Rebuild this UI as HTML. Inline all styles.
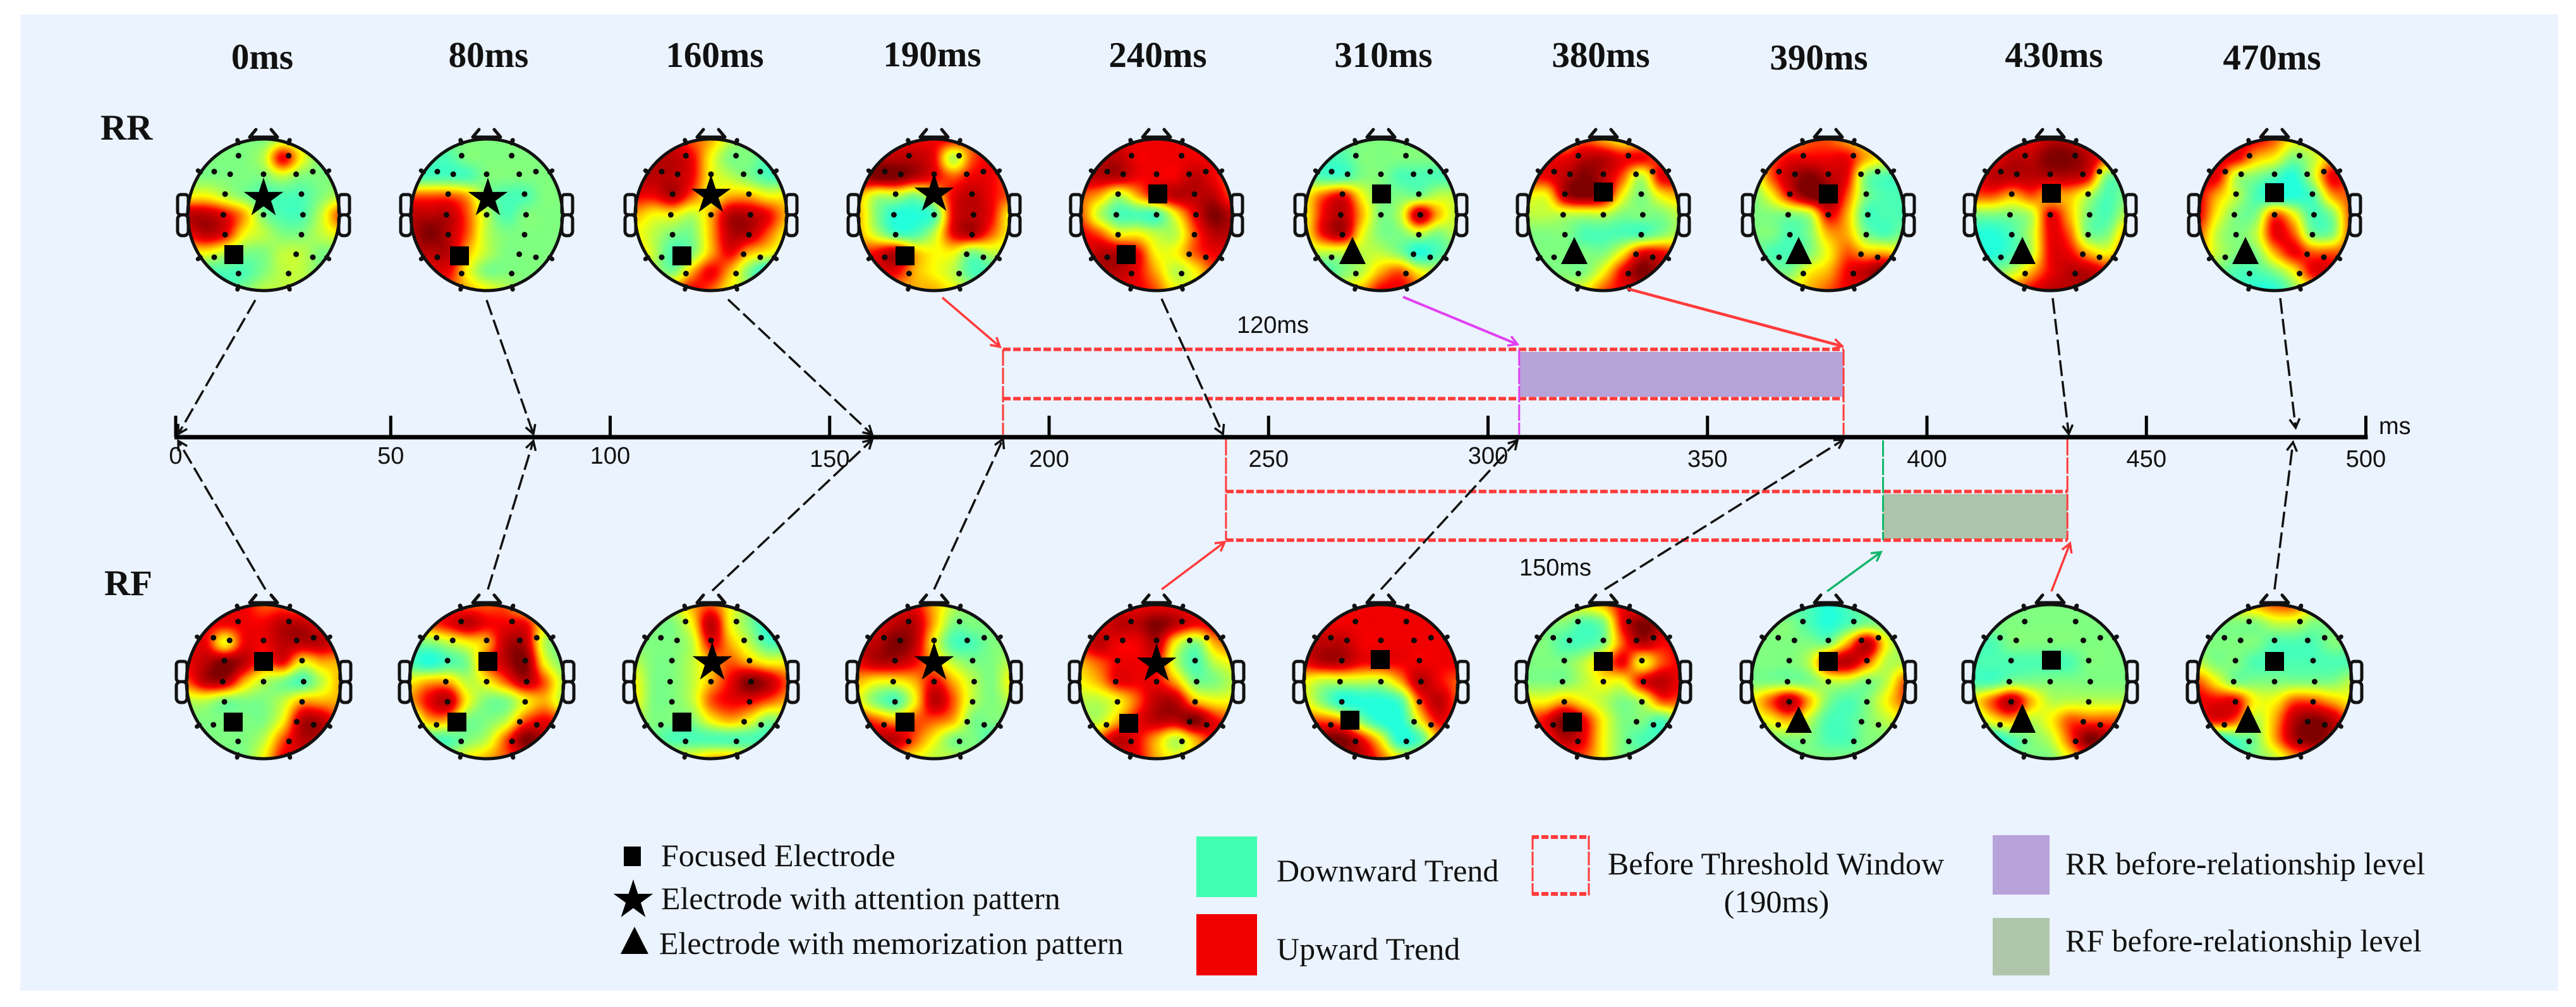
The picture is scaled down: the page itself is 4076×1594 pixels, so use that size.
<!DOCTYPE html>
<html lang="en">
<head>
<meta charset="utf-8">
<title>EEG topographic maps along a time axis</title>
<style>
html,body{margin:0;padding:0;background:#fff;}
#figure{position:relative;width:4076px;height:1594px;background:#fff;overflow:hidden;}
#panel{position:absolute;left:32px;top:23px;width:4016px;height:1545px;background:#EBF3FE;}
#overlay{position:absolute;left:0;top:0;}
canvas{position:absolute;filter:blur(0.8px);}
.title{font:bold 57px "Liberation Serif",serif;fill:#111;text-anchor:middle;}
.rowlabel{font:bold 57px "Liberation Serif",serif;fill:#111;}
.tick{font:38px "Liberation Sans",sans-serif;fill:#111;text-anchor:middle;}
.note{font:38px "Liberation Sans",sans-serif;fill:#111;}
.legend{font:50px "Liberation Serif",serif;fill:#111;}
</style>
</head>
<body>
<div id="figure">
<div id="panel"></div>
<svg id="overlay" width="4076" height="1594" viewBox="0 0 4076 1594" xmlns="http://www.w3.org/2000/svg">
<defs>
<marker id="ah-black" markerUnits="userSpaceOnUse" markerWidth="30" markerHeight="30" refX="24" refY="15" orient="auto"><path d="M10,7 L24,15 L10,23" fill="none" stroke="#111" stroke-width="3.5"/></marker>
<marker id="ah-red" markerUnits="userSpaceOnUse" markerWidth="30" markerHeight="30" refX="24" refY="15" orient="auto"><path d="M10,7 L24,15 L10,23" fill="none" stroke="#FF3B3B" stroke-width="3.5"/></marker>
<marker id="ah-magenta" markerUnits="userSpaceOnUse" markerWidth="30" markerHeight="30" refX="24" refY="15" orient="auto"><path d="M10,7 L24,15 L10,23" fill="none" stroke="#E040F0" stroke-width="3.5"/></marker>
<marker id="ah-green" markerUnits="userSpaceOnUse" markerWidth="30" markerHeight="30" refX="24" refY="15" orient="auto"><path d="M10,7 L24,15 L10,23" fill="none" stroke="#12B76A" stroke-width="3.5"/></marker>
</defs>
<g id="heads-layer"></g>
<g id="windows-layer"></g>
<g id="axis-layer"></g>
<g id="arrows-layer"></g>

<text class="title" x="415" y="109">0ms</text>
<text class="title" x="773" y="106">80ms</text>
<text class="title" x="1131" y="106">160ms</text>
<text class="title" x="1475" y="105">190ms</text>
<text class="title" x="1832" y="106">240ms</text>
<text class="title" x="2189" y="106">310ms</text>
<text class="title" x="2533" y="106">380ms</text>
<text class="title" x="2878" y="110">390ms</text>
<text class="title" x="3250" y="106">430ms</text>
<text class="title" x="3595" y="110">470ms</text>

<text class="rowlabel" x="159" y="221">RR</text>
<text class="rowlabel" x="165" y="942">RF</text>

<text class="note" x="1957" y="527">120ms</text>
<text class="note" x="2404" y="911">150ms</text>
<text class="note" x="3764" y="687">ms</text>

<g id="legend">
<rect x="987" y="1340" width="27" height="31" fill="#000"/>
<text class="legend" x="1046" y="1371">Focused Electrode</text>
<text class="legend" x="1046" y="1439">Electrode with attention pattern</text>
<polygon points="1004,1467 1026,1510 982,1510" fill="#000"/>
<text class="legend" x="1043" y="1510">Electrode with memorization pattern</text>
<rect x="1893" y="1324" width="96" height="96" fill="#40FFB0"/>
<text class="legend" x="2020" y="1395">Downward Trend</text>
<rect x="1893" y="1447" width="96" height="97" fill="#F00000"/>
<text class="legend" x="2020" y="1519">Upward Trend</text>
<g>
<line x1="2424" y1="1325" x2="2515" y2="1325" stroke="#FF3B3B" stroke-width="6" stroke-dasharray="11 4"/>
<line x1="2424" y1="1415" x2="2515" y2="1415" stroke="#FF3B3B" stroke-width="6" stroke-dasharray="11 4"/>
<line x1="2425" y1="1323" x2="2425" y2="1417" stroke="#FF3B3B" stroke-width="3" stroke-dasharray="22 3"/>
<line x1="2514" y1="1323" x2="2514" y2="1417" stroke="#FF3B3B" stroke-width="3" stroke-dasharray="22 3"/>
</g>
<text class="legend" x="2810" y="1384" text-anchor="middle">Before Threshold Window</text>
<text class="legend" x="2811" y="1444" text-anchor="middle">(190ms)</text>
<rect x="3153" y="1322" width="90" height="94" fill="#B8A2DA"/>
<text class="legend" x="3268" y="1384">RR before-relationship level</text>
<rect x="3153" y="1453" width="90" height="91" fill="#B0C6AC"/>
<text class="legend" x="3268" y="1506">RF before-relationship level</text>
</g>
<g id="markers-layer"></g>
</svg>
</div>

<script>
// ---- data: time axis ----
const tickValues = [0, 50, 100, 150, 200, 250, 300, 350, 400, 450, 500];
const tickLabels = ["0", "50", "100", "150", "200", "250", "300", "350", "400", "450", "500"];
const labelBaselines = [734, 734, 734, 739, 739, 739, 734, 739, 739, 739, 739];
const timePoints = ["0ms", "80ms", "160ms", "190ms", "240ms", "310ms", "380ms", "390ms", "430ms", "470ms"];

// ---- data: window boundaries (ms) ----
const rrWindowMs = [189.5, 381];
const rrLevelMs = [307.1, 381];
const rfWindowMs = [240.3, 432];
const rfLevelMs = [390, 432];

// ---- data: arrow targets on the axis (ms) ----
const rrArrowTargetsMs = [1.6, 82.5, 159.7, 188.8, 239.6, 306.7, 380.7, 432.3, 484];
const rfArrowTargetsMs = [1.6, 82.5, 159.7, 189.5, 240, 306.7, 381, 389.5, 432.6, 483.4];

// ---- data: scalp activity levels (0 = cyan ... 2 = green ... 4 = yellow ... 7 = red ... 9 = dark red)
// each head is a 9x9 grid, front of head first
const rrValues = [
[[2,2,2,2,2,3,3,3,3],[2,2,2,2,3,7,4,2,2],[2,2,2,2,2,3,2,2,2],[4,4,3,2,1,1,1,2,3],[8,8,7,5,2,1,1,3,6],[7,8,7,4,3,2,2,3,4],[4,4,3,2,2,3,3,2,2],[1,1,1,1,2,3,3,2,2],[1,1,1,2,3,3,3,2,2]],
[[2,2,2,2,2,2,2,2,2],[1,1,1,2,2,2,2,2,2],[1,1,1,1,2,2,2,2,2],[6,6,6,5,2,1,1,2,2],[8,8,8,6,3,1,2,2,2],[8,9,8,6,3,2,2,2,2],[8,8,8,5,3,2,2,2,2],[7,7,7,4,2,2,2,2,2],[6,6,6,5,4,3,2,2,2]],
[[7,7,7,6,5,3,2,2,2],[8,8,8,7,4,2,2,1,1],[8,8,8,7,4,3,2,1,1],[7,7,8,6,4,5,5,4,4],[5,4,4,3,5,8,8,7,5],[4,3,2,2,5,8,8,6,4],[5,3,1,2,5,7,5,4,3],[5,3,2,5,7,5,2,0,1],[5,5,6,7,6,4,3,2,2]],
[[7,7,7,7,7,7,6,6,6],[8,8,8,8,7,3,6,7,7],[8,9,9,8,7,6,7,7,6],[5,3,3,2,4,7,8,7,6],[5,2,0,0,1,7,8,7,4],[5,3,1,1,3,7,8,6,4],[6,7,8,5,4,4,2,3,3],[6,7,7,5,4,3,1,1,2],[5,5,5,5,5,4,3,2,2]],
[[7,7,7,7,7,7,7,6,6],[8,8,8,7,7,7,7,7,7],[8,8,8,7,7,7,8,7,6],[6,5,3,5,7,8,8,8,6],[6,3,1,1,1,4,7,9,8],[7,6,4,4,3,3,6,8,8],[7,8,8,7,4,4,6,7,7],[7,8,8,7,5,3,4,6,6],[6,7,7,7,6,4,4,5,5]],
[[2,2,2,2,2,2,2,2,2],[2,1,1,2,2,2,2,2,2],[2,1,1,2,2,1,1,1,1],[4,6,7,4,2,2,2,3,3],[4,7,8,5,2,3,8,5,3],[4,7,8,4,2,2,3,2,3],[3,3,3,3,3,2,0,1,2],[2,1,2,3,5,6,4,3,3],[2,3,4,5,7,7,6,4,3]],
[[5,5,5,6,5,4,4,4,4],[7,7,7,8,8,7,7,6,6],[7,7,8,9,8,6,3,7,7],[4,4,8,9,8,4,2,4,5],[3,3,3,3,3,2,2,2,3],[2,2,2,1,1,1,1,2,3],[2,2,2,2,2,4,7,7,6],[2,2,2,2,4,7,9,8,7],[2,3,3,4,6,7,7,7,7]],
[[5,5,5,6,6,5,4,4,4],[5,6,7,7,7,7,5,4,4],[3,6,8,9,8,7,2,1,1],[2,4,7,9,9,6,2,1,1],[2,2,2,3,7,5,1,1,1],[2,2,1,2,5,5,2,1,2],[2,1,1,2,4,6,5,5,4],[2,2,2,4,5,7,8,9,7],[3,3,4,5,6,7,7,7,6]],
[[7,7,7,7,8,8,7,7,6],[7,7,8,8,9,9,8,6,5],[7,8,8,8,8,8,7,2,2],[6,6,5,6,5,5,3,1,2],[2,2,2,3,7,5,2,1,3],[0,0,1,3,7,6,2,2,5],[0,0,1,3,7,7,5,4,6],[2,2,3,5,7,8,8,7,7],[5,5,6,7,8,8,8,7,7]],
[[5,6,7,7,6,4,4,4,4],[6,7,7,5,4,2,3,5,5],[7,7,3,2,1,0,3,7,6],[7,5,3,1,0,0,1,5,6],[7,4,2,2,6,4,1,2,6],[6,3,2,3,7,6,2,2,6],[5,3,2,2,5,7,6,6,6],[3,2,1,1,2,4,7,7,5],[2,1,1,0,0,2,4,5,4]]
];
const rfValues = [
[[6,7,7,7,6,6,5,5,5],[7,7,7,7,7,8,8,7,6],[7,7,4,7,7,8,8,8,7],[7,8,9,8,6,7,4,5,5],[6,8,8,5,3,2,1,3,5],[3,3,2,2,2,3,5,5,5],[2,2,2,2,2,4,8,8,6],[2,2,2,2,3,6,8,8,7],[2,2,2,2,4,7,7,7,6]],
[[4,5,6,6,6,6,4,3,3],[5,6,7,8,7,7,7,4,3],[2,2,3,4,5,8,8,3,2],[1,0,1,2,6,8,9,4,2],[4,5,5,3,4,6,8,6,3],[5,7,8,4,2,2,4,5,3],[2,5,5,2,2,3,6,7,6],[1,1,1,2,3,6,9,8,7],[3,3,3,4,5,6,7,7,7]],
[[2,2,3,5,6,4,2,0,0],[2,2,2,4,8,4,2,0,0],[2,2,2,3,7,5,3,1,1],[3,2,2,3,5,6,5,4,4],[4,2,2,3,5,7,9,8,6],[4,2,2,3,6,7,7,6,5],[3,2,2,2,4,5,4,2,3],[3,2,1,1,1,1,1,1,3],[4,4,4,4,5,5,4,3,3]],
[[6,6,7,7,5,3,2,2,2],[7,7,8,8,5,2,2,2,2],[8,8,9,8,4,1,1,2,2],[7,8,8,7,5,3,2,2,3],[5,4,4,5,7,5,3,2,4],[4,2,1,4,8,6,3,2,3],[7,6,5,6,6,5,2,2,2],[8,8,8,6,4,2,2,1,2],[7,7,5,4,3,3,2,2,2]],
[[6,7,7,7,7,7,6,5,5],[7,7,8,8,9,8,7,7,6],[7,8,7,7,8,4,2,5,6],[5,6,7,7,7,3,1,3,4],[4,5,7,7,7,5,2,2,3],[3,3,4,6,8,8,5,4,4],[3,3,5,7,8,8,9,7,6],[4,6,8,7,5,3,5,7,7],[7,8,7,7,5,4,5,7,7]],
[[7,7,7,7,7,7,7,7,7],[7,7,7,7,7,7,7,7,7],[8,8,8,7,7,7,7,7,7],[7,8,8,7,7,7,7,7,7],[4,3,3,3,3,5,8,7,6],[4,2,0,0,0,1,6,8,6],[6,6,5,2,0,0,4,7,6],[8,9,9,7,4,0,1,5,5],[8,8,8,8,6,4,4,5,5]],
[[3,3,4,4,5,7,6,6,5],[2,2,2,1,2,7,9,8,7],[2,2,1,1,2,6,8,7,7],[2,2,2,3,5,7,4,6,7],[2,2,2,3,4,4,7,8,7],[4,4,5,4,3,2,3,6,6],[6,7,9,7,4,2,2,1,3],[4,6,8,7,4,2,1,1,2],[3,4,6,6,4,2,2,2,2]],
[[1,1,1,1,0,1,2,2,2],[2,2,2,1,0,1,2,2,2],[2,2,2,2,2,5,8,4,2],[2,2,2,3,7,8,6,3,3],[2,2,2,2,3,3,2,3,6],[4,6,8,5,2,1,2,4,6],[3,4,5,3,1,1,2,3,4],[1,2,2,2,1,1,2,2,2],[2,2,2,2,2,2,2,2,2]],
[[2,2,2,2,2,2,2,2,2],[2,2,2,2,2,2,2,2,2],[1,1,2,2,2,2,2,2,2],[1,1,1,1,1,1,2,2,2],[1,1,2,2,2,2,2,2,2],[4,6,8,5,3,3,3,3,3],[2,4,5,3,4,6,6,6,6],[1,0,1,2,3,6,9,8,7],[2,2,2,2,2,4,6,6,5]],
[[3,3,4,5,6,6,4,3,3],[2,2,2,2,3,3,2,2,2],[2,2,2,2,1,1,1,2,2],[3,2,2,1,1,1,1,1,1],[6,4,2,2,2,2,2,2,3],[7,7,7,4,4,6,6,5,4],[6,7,6,3,5,8,9,8,6],[1,0,1,2,5,8,9,8,7],[2,1,1,2,3,5,6,6,5]]
];

// ---- layout ----
const SVGNS = "http://www.w3.org/2000/svg";
const figure = document.getElementById("figure");
const overlay = document.getElementById("overlay");
const headsLayer = document.getElementById("heads-layer");
const windowsLayer = document.getElementById("windows-layer");
const axisLayer = document.getElementById("axis-layer");
const arrowsLayer = document.getElementById("arrows-layer");
const markersLayer = document.getElementById("markers-layer");

const headCenters = [417, 770, 1125, 1478, 1830, 2185, 2537, 2893, 3244, 3599];
const rrCenterY = 340, rrRadius = 120;
const rfCenterY = 1079, rfRadius = 122;
const axisY = 692;

const sensorSites = [
 [-.33,-.78],[.33,-.78],
 [-.65,-.57],[-.44,-.535],[0,-.535],[.43,-.535],[.65,-.57],
 [-.507,-.273],[.5,-.273],
 [-.53,0],[0,0],[.52,0],
 [-.507,.262],[.5,.262],
 [-.65,.56],[.43,.52],[.65,.56],
 [-.33,.775],[.33,.775]
];

const rrMarkers = [
 [["star",417,314],["square",370,403]],
 [["star",772,314],["square",727,405]],
 [["star",1125,309],["square",1079,405]],
 [["star",1478,307],["square",1432,405]],
 [["square",1832,307],["square",1782,403]],
 [["square",2186,307],["tri",2140,375,418]],
 [["square",2537,304],["tri",2491,375,418]],
 [["square",2893,307],["tri",2846,375,418]],
 [["square",3246,306],["tri",3200,375,418]],
 [["square",3599,305],["tri",3553,375,418]]
];
const rfMarkers = [
 [["square",417,1047],["square",369,1143]],
 [["square",772,1047],["square",723,1143]],
 [["star",1127,1049],["square",1079,1143]],
 [["star",1478,1049],["square",1432,1143]],
 [["star",1830,1051],["square",1786,1145]],
 [["square",2184,1044],["square",2136,1140]],
 [["square",2537,1047],["square",2488,1143]],
 [["square",2893,1047],["tri",2846,1118,1160]],
 [["square",3246,1045],["tri",3200,1114,1160]],
 [["square",3599,1047],["tri",3557,1116,1160]]
];

// ---- axis function ----
function xOfMs(ms) {
  return Math.max(278, 271 + 6.945 * ms);
}

// ---- colour function ----
const levelStops = [.41, .45, .5, .56, .625, .7, .79, .89, .94, 1];
function clamp01(v) { return v < 0 ? 0 : v > 1 ? 1 : v; }
function levelToRgb(level) {
  const l = Math.max(0, Math.min(9, level));
  const i = Math.min(8, Math.floor(l));
  const t = levelStops[i] + (levelStops[i + 1] - levelStops[i]) * (l - i);
  return [
    255 * clamp01(1.5 - Math.abs(4 * t - 3)),
    255 * clamp01(1.5 - Math.abs(4 * t - 2)),
    255 * clamp01(1.5 - Math.abs(4 * t - 1))
  ];
}
function cubic(p0, p1, p2, p3, f) {
  return p1 + 0.5 * f * (p2 - p0 + f * (2 * p0 - 5 * p1 + 4 * p2 - p3 + f * (3 * (p1 - p2) + p3 - p0)));
}
function sampleGrid(grid, gx, gy) {
  const n = grid.length;
  const ix = Math.max(0, Math.min(n - 2, Math.floor(gx)));
  const iy = Math.max(0, Math.min(n - 2, Math.floor(gy)));
  const fx = gx - ix, fy = gy - iy;
  const rows = [];
  for (let k = -1; k <= 2; k++) {
    const row = grid[Math.max(0, Math.min(n - 1, iy + k))];
    rows.push(cubic(
      row[Math.max(0, ix - 1)], row[ix], row[ix + 1], row[Math.min(n - 1, ix + 2)], fx));
  }
  return cubic(rows[0], rows[1], rows[2], rows[3], fy);
}

// ---- drawing helpers ----
function svgEl(tag, attrs) {
  const el = document.createElementNS(SVGNS, tag);
  for (const key in attrs) el.setAttribute(key, attrs[key]);
  return el;
}

function drawHeatmap(grid, cx, cy, r, rowName, idx) {
  const size = 2 * r;
  const canvas = document.createElement("canvas");
  
  
  canvas.width = size;
  canvas.height = size;
  canvas.style.left = (cx - r) + "px";
  canvas.style.top = (cy - r) + "px";
  const ctx = canvas.getContext("2d");
  const img = ctx.createImageData(size, size);
  for (let py = 0; py < size; py++) {
    for (let px = 0; px < size; px++) {
      const nx = (px + .5 - r) / r, ny = (py + .5 - r) / r;
      const d = Math.sqrt(nx * nx + ny * ny);
      if (d > 1) continue;
      const v = sampleGrid(grid, (nx + 1) * 4, (ny + 1) * 4);
      const c = levelToRgb(v);
      const o = (py * size + px) * 4;
      img.data[o] = c[0];
      img.data[o + 1] = c[1];
      img.data[o + 2] = c[2];
      img.data[o + 3] = 255;
    }
  }
  ctx.putImageData(img, 0, 0);
  figure.insertBefore(canvas, overlay);
}

function drawHeadOutline(cx, cy, r, rowName, idx) {
  const g = svgEl("g", {fill: "none", stroke: "#111", "stroke-width": 5, "stroke-linecap": "round"});
  
  
  g.appendChild(svgEl("circle", {cx: cx, cy: cy, r: r}));
  g.appendChild(svgEl("path", {d: "M" + (cx - 22) + "," + (cy - r - 3) + " L" + (cx - 12) + "," + (cy - r - 15) + " M" + (cx + 22) + "," + (cy - r - 3) + " L" + (cx + 12) + "," + (cy - r - 15) + " M" + (cx - 22) + "," + (cy - r - 3) + " H" + (cx + 22)}));
  [-1, 1].forEach(function (s) {
    const ex = s < 0 ? cx - r - 16 : cx + r - 1;
    g.appendChild(svgEl("rect", {x: ex, y: cy - 32, width: 17, height: 32, rx: 5}));
    g.appendChild(svgEl("rect", {x: ex, y: cy, width: 17, height: 33, rx: 7}));
  });
  [[.33,-.945],[-.33,-.945],[.83,-.56],[-.83,-.56],[.83,.56],[-.83,.56],[.33,.945],[-.33,.945]].forEach(function (p) {
    g.appendChild(svgEl("line", {x1: cx + p[0] * r, y1: cy + p[1] * r, x2: cx + p[0] * (r + 5), y2: cy + p[1] * (r + 5), "stroke-width": 7}));
  });
  headsLayer.appendChild(g);

  const dots = svgEl("g", {fill: "#0a0a0a"});
  
  
  sensorSites.forEach(function (p) {
    dots.appendChild(svgEl("circle", {cx: cx + p[0] * r, cy: cy + p[1] * r, r: 4.5}));
  });
  headsLayer.appendChild(dots);
}

function starPoints(cx, cy, R) {
  const pts = [];
  for (let i = 0; i < 10; i++) {
    const rad = i % 2 === 0 ? R : R * 0.38;
    const a = -Math.PI / 2 + i * Math.PI / 5;
    pts.push((cx + rad * Math.cos(a)).toFixed(1) + "," + (cy + rad * Math.sin(a)).toFixed(1));
  }
  return pts.join(" ");
}

function drawMarker(spec) {
  let el;
  if (spec[0] === "star") {
    el = svgEl("polygon", {points: starPoints(spec[1], spec[2], 33), fill: "#000"});
    
    
  } else if (spec[0] === "square") {
    el = svgEl("rect", {x: spec[1] - 15, y: spec[2] - 15, width: 30, height: 30, fill: "#000"});
    
    
  } else {
    el = svgEl("polygon", {points: spec[1] + "," + spec[2] + " " + (spec[1] + 21) + "," + spec[3] + " " + (spec[1] - 21) + "," + spec[3], fill: "#000"});
    
    
  }
  markersLayer.appendChild(el);
}

function dashedRow(x1, x2, y) {
  const el = svgEl("line", {x1: x1, y1: y, x2: x2, y2: y, stroke: "#FF3B3B", "stroke-width": 5.5, "stroke-dasharray": "12 4"});
  
  
  windowsLayer.appendChild(el);
}
function dashedDrop(x, y1, y2, color) {
  const el = svgEl("line", {x1: x, y1: y1, x2: x, y2: y2, stroke: color, "stroke-width": 3, "stroke-dasharray": "26 3"});
  
  
  windowsLayer.appendChild(el);
}
function levelBar(ms, y1, y2, color, name) {
  const el = svgEl("rect", {x: xOfMs(ms[0]), y: y1, width: xOfMs(ms[1]) - xOfMs(ms[0]), height: y2 - y1, fill: color});
  
  
  windowsLayer.appendChild(el);
}

function drawArrow(x1, y1, ms, y2, color, headId, dashed, width) {
  const attrs = {x1: x1, y1: y1, x2: xOfMs(ms), y2: y2, stroke: color, "stroke-width": width, "marker-end": "url(#" + headId + ")"};
  if (dashed) attrs["stroke-dasharray"] = "25 8";
  const el = svgEl("line", attrs);
  
  
  arrowsLayer.appendChild(el);
}

// ---- heads ----
headCenters.forEach(function (cx, i) {
  drawHeatmap(rrValues[i], cx, rrCenterY, rrRadius, "rr", i);
  drawHeadOutline(cx, rrCenterY, rrRadius, "rr", i);
  rrMarkers[i].forEach(drawMarker);
  drawHeatmap(rfValues[i], cx, rfCenterY, rfRadius, "rf", i);
  drawHeadOutline(cx, rfCenterY, rfRadius, "rf", i);
  rfMarkers[i].forEach(drawMarker);
});
drawMarker(["star", 1002, 1425]);

// ---- windows ----
levelBar(rrLevelMs, 557, 628, "#B6A3D8", "rr-before-relationship-bar");
levelBar(rfLevelMs, 782, 853, "#AEC3AB", "rf-before-relationship-bar");
dashedRow(xOfMs(rrWindowMs[0]), xOfMs(rrWindowMs[1]), 553);
dashedRow(xOfMs(rrWindowMs[0]), xOfMs(rrWindowMs[1]), 631);
dashedRow(xOfMs(rfWindowMs[0]), xOfMs(rfWindowMs[1]), 778);
dashedRow(xOfMs(rfWindowMs[0]), xOfMs(rfWindowMs[1]), 855);
dashedDrop(xOfMs(rrWindowMs[0]), 553, 688, "#FF3B3B");
dashedDrop(xOfMs(rrLevelMs[0]), 553, 688, "#E040F0");
dashedDrop(xOfMs(rrWindowMs[1]), 553, 688, "#FF3B3B");
dashedDrop(xOfMs(rfWindowMs[0]), 695, 855, "#FF3B3B");
dashedDrop(xOfMs(rfWindowMs[1]), 695, 855, "#FF3B3B");
dashedDrop(xOfMs(rfLevelMs[0]), 697, 855, "#12B76A");

// ---- axis ----
const axisLine = svgEl("line", {x1: xOfMs(tickValues[0]) - 2, y1: axisY, x2: xOfMs(tickValues[tickValues.length - 1]) + 3, y2: axisY, stroke: "#000", "stroke-width": 7});


axisLayer.appendChild(axisLine);
tickValues.forEach(function (v, i) {
  const x = xOfMs(v);
  const t = svgEl("line", {x1: x, y1: axisY, x2: x, y2: 658, stroke: "#000", "stroke-width": 5});
  
  
  axisLayer.appendChild(t);
  const lab = svgEl("text", {x: x, y: labelBaselines[i], class: "tick"});
  
  
  lab.textContent = tickLabels[i];
  axisLayer.appendChild(lab);
});

// ---- arrows: RR row ----
const BK = "#111", RD = "#FF3B3B", MG = "#E040F0", GN = "#12B76A";
drawArrow(404, 475, rrArrowTargetsMs[0], 687, BK, "ah-black", true, 3.5);
drawArrow(770, 475, rrArrowTargetsMs[1], 687, BK, "ah-black", true, 3.5);
drawArrow(1152, 474, rrArrowTargetsMs[2], 688, BK, "ah-black", true, 3.5);
drawArrow(1491, 471, rrArrowTargetsMs[3], 549, RD, "ah-red", false, 3.5);
drawArrow(1838, 473, rrArrowTargetsMs[4], 687, BK, "ah-black", true, 3.5);
drawArrow(2220, 470, rrArrowTargetsMs[5], 545, MG, "ah-magenta", false, 4);
drawArrow(2575, 457, rrArrowTargetsMs[6], 548, RD, "ah-red", false, 4.5);
drawArrow(3248, 472, rrArrowTargetsMs[7], 687, BK, "ah-black", true, 3.5);
drawArrow(3608, 472, rrArrowTargetsMs[8], 677, BK, "ah-black", true, 3.5);

// ---- arrows: RF row ----
drawArrow(420, 933, rfArrowTargetsMs[0], 698, BK, "ah-black", true, 3.5);
drawArrow(772, 933, rfArrowTargetsMs[1], 698, BK, "ah-black", true, 3.5);
drawArrow(1127, 935, rfArrowTargetsMs[2], 696, BK, "ah-black", true, 3.5);
drawArrow(1478, 933, rfArrowTargetsMs[3], 695, BK, "ah-black", true, 3.5);
drawArrow(1838, 933, rfArrowTargetsMs[4], 858, RD, "ah-red", false, 3.5);
drawArrow(2185, 933, rfArrowTargetsMs[5], 697, BK, "ah-black", true, 3.5);
drawArrow(2539, 933, rfArrowTargetsMs[6], 696, BK, "ah-black", true, 3.5);
drawArrow(2891, 936, rfArrowTargetsMs[7], 874, GN, "ah-green", false, 3.5);
drawArrow(3246, 936, rfArrowTargetsMs[8], 860, RD, "ah-red", false, 3.5);
drawArrow(3599, 933, rfArrowTargetsMs[9], 700, BK, "ah-black", true, 3.5);
</script>
</body>
</html>
